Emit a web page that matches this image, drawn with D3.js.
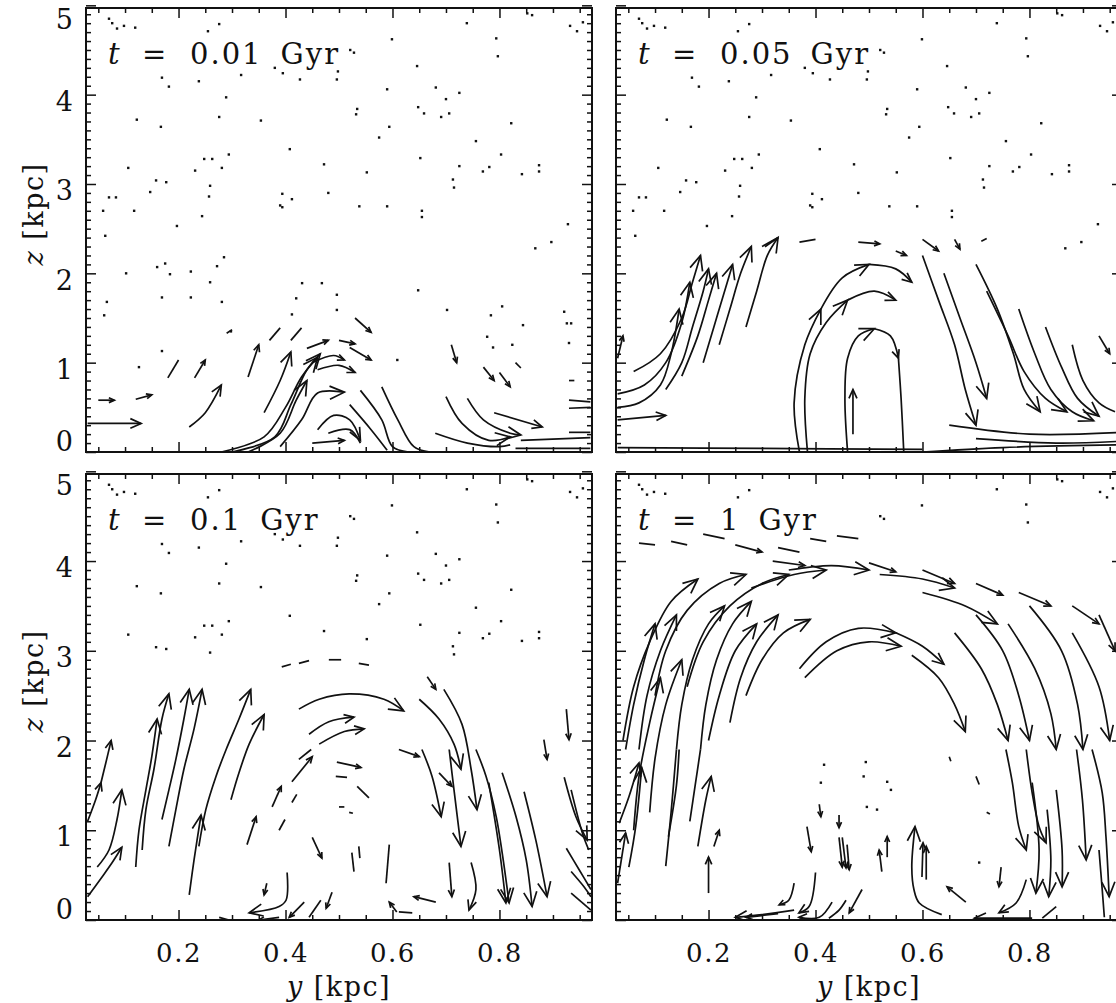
<!DOCTYPE html>
<html>
<head>
<meta charset="utf-8">
<script src="https://cdn.jsdelivr.net/npm/d3@7"></script>
<style>
  body { margin: 0; background: #fff; }
  text { font-family: "DejaVu Serif", serif; fill: #111; }
</style>
</head>
<body>
<svg id="chart" width="1116" height="1003"></svg>
<script>
// axis values
var yTicks = [0.2, 0.4, 0.6, 0.8];
var zTicks = [0, 1, 2, 3, 4, 5];
var times = ["0.01", "0.05", "0.1", "1"];
var yDomain = [0.027, 0.973];
var zDomain = [0, 4.97];

// tracer dots still at rest (same in early frames), [y, z] in kpc
var dotsEarly = [
  [0.07,4.85],[0.076,4.8],[0.085,4.74],[0.098,4.77],[0.119,4.75],[0.255,4.71],[0.276,4.79],
  [0.169,4.19],[0.182,4.09],[0.238,4.15],[0.317,4.22],[0.38,4.3],[0.395,4.24],[0.427,4.17],
  [0.289,3.97],[0.122,3.72],[0.167,3.64],[0.276,3.75],[0.354,3.71],[0.408,3.39],[0.248,3.28],
  [0.263,3.28],[0.294,3.33],[0.281,3.18],[0.231,3.15],[0.106,3.18],[0.158,3.04],[0.177,3.02],
  [0.147,2.91],[0.259,2.98],[0.257,2.86],[0.07,2.85],[0.083,2.85],[0.059,2.7],[0.117,2.7],
  [0.244,2.64],[0.394,2.89],[0.412,2.83],[0.39,2.76],[0.394,2.74],[0.197,2.53],[0.063,2.42],
  [0.521,4.5],[0.528,4.47],[0.599,4.62],[0.739,4.8],[0.794,4.63],[0.797,4.43],[0.852,4.91],
  [0.861,4.89],[0.932,4.77],[0.945,4.71],[0.956,4.81],[0.498,4.26],[0.496,4.17],[0.646,4.32],
  [0.59,4.06],[0.681,4.08],[0.7,3.95],[0.725,4.02],[0.648,3.86],[0.659,3.79],[0.691,3.75],
  [0.706,3.79],[0.534,3.84],[0.532,3.78],[0.594,3.64],[0.575,3.52],[0.822,3.68],[0.756,3.48],
  [0.803,3.33],[0.652,3.29],[0.472,3.22],[0.552,3.13],[0.725,3.2],[0.769,3.14],[0.781,3.19],
  [0.842,3.11],[0.874,3.21],[0.874,3.14],[0.713,3.05],[0.715,2.96],[0.48,2.9],[0.538,2.75],
  [0.59,2.75],[0.655,2.7],[0.655,2.63],[0.928,2.55],[0.897,2.35],[0.867,2.28]
];
var dotsLow1 = [
  [0.102,2.0],[0.16,2.07],[0.175,2.11],[0.184,1.99],[0.223,2.02],[0.259,1.9],[0.272,2.08],
  [0.285,2.18],[0.169,1.73],[0.223,1.73],[0.281,1.68],[0.42,1.72],[0.066,1.68],[0.061,1.53],
  [0.412,1.54],[0.126,0.95],[0.169,1.13],[0.298,1.35],[0.431,1.89],[0.468,1.89],[0.648,1.81],
  [0.496,1.76],[0.496,1.59],[0.702,1.59],[0.805,1.63],[0.784,1.53],[0.844,1.42],[0.921,1.57],
  [0.926,1.44],[0.934,1.44],[0.93,1.22],[0.609,1.03],[0.777,1.29],[0.788,1.17],[0.824,1.2]
];
var dotsLow4 = [
  [0.416,1.73],[0.494,1.76],[0.49,1.6],[0.534,1.54],[0.541,1.45],[0.496,1.26],[0.515,1.23],
  [0.706,0.64],[0.41,1.53]
];

// streamlines ending in an arrow head, [y, z] points in kpc
var arrows1 = [
  [[0.03,0.32],[0.13,0.32]],
  [[0.05,0.58],[0.08,0.58]],
  [[0.12,0.59],[0.15,0.64]],
  [[0.23,0.83],[0.25,1.03]],
  [[0.22,0.28],[0.25,0.44],[0.28,0.75]],
  [[0.33,0.84],[0.35,1.2]],
  [[0.36,0.44],[0.39,0.8],[0.41,1.12]],
  [[0.28,0],[0.36,0.17],[0.40,0.5],[0.43,0.84],[0.46,1.06]],
  [[0.30,0],[0.38,0.17],[0.41,0.53],[0.44,0.92],[0.465,1.1]],
  [[0.33,0],[0.39,0.21],[0.42,0.58],[0.44,0.8]],
  [[0.39,0.06],[0.43,0.36],[0.46,0.66],[0.51,0.67]],
  [[0.44,1.16],[0.48,1.25]],
  [[0.50,1.25],[0.53,1.21]],
  [[0.53,1.5],[0.56,1.34]],
  [[0.52,1.17],[0.56,1.03]],
  [[0.45,1.0],[0.49,1.08],[0.51,1.03]],
  [[0.46,0.92],[0.50,0.97],[0.53,0.89]],
  [[0.46,0.25],[0.49,0.41],[0.52,0.36],[0.54,0.13]],
  [[0.45,0.1],[0.51,0.13]],
  [[0.70,0.62],[0.73,0.32],[0.78,0.13],[0.82,0.17]],
  [[0.74,0.6],[0.77,0.36],[0.82,0.21],[0.84,0.19]],
  [[0.79,0.44],[0.88,0.28]],
  [[0.71,1.2],[0.72,1.0]],
  [[0.77,0.95],[0.79,0.8]],
  [[0.80,0.89],[0.82,0.73]]
];
var curves1 = [
  [[0.18,0.83],[0.20,1.03]],
  [[0.29,1.33],[0.30,1.37]],
  [[0.37,1.25],[0.39,1.39]],
  [[0.41,1.25],[0.43,1.39]],
  [[0.48,0.21],[0.52,0.25],[0.54,0.1]],
  [[0.54,0.69],[0.58,0.36],[0.60,0.06],[0.63,0]],
  [[0.52,0.53],[0.56,0.25],[0.59,0.02]],
  [[0.58,0.73],[0.61,0.36],[0.64,0.06],[0.67,0]],
  [[0.68,0.21],[0.74,0.1],[0.80,0.06],[0.82,0.08]],
  [[0.84,0.13],[0.97,0.16]],
  [[0.93,0.58],[0.97,0.56]],
  [[0.93,0.49],[0.97,0.5]],
  [[0.93,0.22],[0.97,0.22]],
  [[0.83,0.04],[0.97,0.04]],
  [[0.83,1.0],[0.84,0.94]],
  [[0.93,0.8],[0.94,0.8]]
];

var arrows2 = [
  [[0.03,0.36],[0.12,0.41]],
  [[0.03,0.5],[0.07,0.55],[0.11,0.75],[0.13,1.1],[0.145,1.6]],
  [[0.03,0.65],[0.08,0.75],[0.12,1.0],[0.15,1.45],[0.165,1.9]],
  [[0.06,0.9],[0.11,1.1],[0.15,1.5],[0.17,1.9],[0.185,2.2]],
  [[0.12,0.7],[0.15,1.0],[0.17,1.4],[0.19,1.8],[0.2,2.05]],
  [[0.15,0.85],[0.18,1.3],[0.2,1.7],[0.215,2.0]],
  [[0.19,1.0],[0.21,1.4],[0.23,1.8],[0.245,2.1]],
  [[0.22,1.2],[0.24,1.6],[0.26,2.0],[0.28,2.3]],
  [[0.27,1.4],[0.29,1.8],[0.31,2.2],[0.33,2.4]],
  [[0.03,1.05],[0.04,1.3]],
  [[0.37,0],[0.36,0.55],[0.38,1.2],[0.41,1.6]],
  [[0.41,1.6],[0.45,1.95],[0.5,2.1]],
  [[0.5,2.1],[0.55,2.05],[0.58,1.9]],
  [[0.385,0],[0.38,0.6],[0.39,1.1],[0.42,1.45],[0.46,1.7]],
  [[0.46,1.7],[0.51,1.8],[0.55,1.7]],
  [[0.46,0],[0.455,0.6],[0.46,1.05],[0.48,1.3],[0.51,1.38]],
  [[0.51,1.38],[0.54,1.3],[0.555,1.05]],
  [[0.47,0.2],[0.47,0.7]],
  [[0.48,2.35],[0.52,2.33]],
  [[0.55,2.25],[0.57,2.2]],
  [[0.6,2.38],[0.63,2.25]],
  [[0.66,2.38],[0.67,2.27]],
  [[0.6,2.2],[0.63,1.7],[0.66,1.2],[0.68,0.7],[0.70,0.3]],
  [[0.64,2.0],[0.67,1.5],[0.7,1.0],[0.72,0.6]],
  [[0.7,2.1],[0.74,1.6],[0.77,1.1],[0.79,0.7],[0.82,0.45]],
  [[0.72,1.8],[0.76,1.3],[0.79,0.9],[0.83,0.6],[0.87,0.45]],
  [[0.78,1.6],[0.81,1.1],[0.84,0.7],[0.88,0.45],[0.92,0.35]],
  [[0.83,1.4],[0.86,0.95],[0.89,0.6],[0.93,0.4]],
  [[0.93,1.3],[0.95,1.1]]
];
var curves2 = [
  [[0.6,0.0],[0.75,0.05],[0.97,0.08]],
  [[0.7,0.15],[0.85,0.1],[0.97,0.12]],
  [[0.65,0.3],[0.8,0.2],[0.97,0.22]],
  [[0.03,0.05],[0.3,0.04],[0.6,0.03]],
  [[0.555,1.05],[0.56,0.6],[0.565,0]],
  [[0.88,1.2],[0.9,0.8],[0.93,0.55],[0.96,0.45]],
  [[0.30,2.3],[0.33,2.4]],
  [[0.37,2.35],[0.40,2.38]],
  [[0.71,2.36],[0.72,2.39]]
];

var arrows3 = [
  [[0.03,1.1],[0.045,1.34],[0.055,1.53]],
  [[0.055,1.53],[0.064,1.75],[0.074,2.0]],
  [[0.03,0.26],[0.057,0.48],[0.076,0.64],[0.094,0.81]],
  [[0.048,0.59],[0.07,0.78],[0.085,1.12],[0.094,1.45]],
  [[0.12,0.59],[0.126,1.0],[0.139,1.45],[0.15,1.82],[0.16,2.24]],
  [[0.132,0.78],[0.139,1.23],[0.154,1.68],[0.169,2.24],[0.182,2.52]],
  [[0.169,1.12],[0.182,1.45],[0.195,1.79],[0.21,2.24],[0.22,2.57]],
  [[0.182,0.82],[0.195,1.23],[0.21,1.68],[0.229,2.13],[0.244,2.57]],
  [[0.22,0.28],[0.229,0.67],[0.242,1.17]],
  [[0.238,0.82],[0.251,1.23],[0.27,1.6],[0.289,1.9],[0.313,2.24],[0.335,2.57]],
  [[0.298,1.34],[0.313,1.64],[0.332,1.96],[0.36,2.29]],
  [[0.328,0.84],[0.345,1.15]],
  [[0.375,1.26],[0.392,1.49]],
  [[0.412,1.54],[0.45,1.82]],
  [[0.496,1.76],[0.541,1.7]],
  [[0.45,0.92],[0.468,0.69]],
  [[0.403,0.53],[0.401,0.22],[0.388,0.15],[0.332,0.08]],
  [[0.365,0.41],[0.36,0.28]],
  [[0.435,0.2],[0.407,0.03]],
  [[0.487,0.31],[0.476,0.13]],
  [[0.388,0.03],[0.35,0.0]],
  [[0.608,0.09],[0.594,0.2]],
  [[0.612,1.9],[0.65,1.82]],
  [[0.655,1.9],[0.674,1.6],[0.691,1.15]],
  [[0.687,1.64],[0.711,1.49]],
  [[0.706,1.9],[0.715,1.45],[0.728,0.82]],
  [[0.756,1.9],[0.775,1.6],[0.794,1.15],[0.805,0.75],[0.818,0.19]],
  [[0.78,1.53],[0.80,0.78],[0.812,0.19]],
  [[0.805,1.64],[0.831,1.15],[0.85,0.67],[0.861,0.15]],
  [[0.846,1.43],[0.868,0.89],[0.889,0.26]],
  [[0.706,0.64],[0.711,0.26]],
  [[0.747,0.64],[0.756,0.34],[0.743,0.11]],
  [[0.681,0.2],[0.64,0.26]],
  [[0.921,1.59],[0.943,1.15],[0.964,0.89]],
  [[0.665,2.71],[0.681,2.57]],
  [[0.425,2.35],[0.463,2.46],[0.519,2.52],[0.584,2.46],[0.621,2.33]],
  [[0.65,2.46],[0.687,2.24],[0.715,1.96],[0.728,1.68]],
  [[0.444,2.07],[0.481,2.21],[0.528,2.26]],
  [[0.463,1.96],[0.51,2.1],[0.547,2.13]],
  [[0.696,2.57],[0.73,2.18],[0.747,1.68],[0.758,1.23]],
  [[0.883,2.01],[0.889,1.79]],
  [[0.925,2.35],[0.93,2.01]]
];
var curves3 = [
  [[0.388,1.0],[0.399,1.12]],
  [[0.412,1.31],[0.421,1.4]],
  [[0.494,1.6],[0.515,1.59]],
  [[0.534,1.49],[0.556,1.36]],
  [[0.50,1.26],[0.51,1.26]],
  [[0.519,1.2],[0.526,1.19]],
  [[0.524,0.75],[0.528,0.54]],
  [[0.537,0.82],[0.539,0.69]],
  [[0.466,0.22],[0.444,0.03]],
  [[0.276,0.03],[0.294,0.0]],
  [[0.594,0.84],[0.588,0.41]],
  [[0.637,0.08],[0.612,0.09]],
  [[0.934,1.45],[0.955,0.97],[0.967,0.78]],
  [[0.925,0.8],[0.949,0.56],[0.971,0.34]],
  [[0.934,0.54],[0.958,0.37],[0.971,0.26]],
  [[0.934,0.3],[0.971,0.11]],
  [[0.393,2.82],[0.41,2.85]],
  [[0.425,2.86],[0.444,2.89]],
  [[0.481,2.9],[0.504,2.9]],
  [[0.537,2.86],[0.556,2.84]],
  [[0.425,1.79],[0.448,1.9]]
];

var arrows4 = [
  [[0.03,0.41],[0.045,0.97]],
  [[0.033,1.08],[0.051,1.37],[0.07,1.75]],
  [[0.051,0.59],[0.064,1.05],[0.075,1.7]],
  [[0.18,0.82],[0.195,1.34],[0.205,1.6]],
  [[0.21,0.82],[0.22,1.0]],
  [[0.2,0.3],[0.2,0.7]],
  [[0.045,1.9],[0.06,2.4],[0.08,2.9],[0.10,3.3]],
  [[0.07,1.9],[0.085,2.5],[0.11,3.0],[0.14,3.4]],
  [[0.06,1.0],[0.07,1.6],[0.09,2.2],[0.11,2.7]],
  [[0.09,1.2],[0.1,1.8],[0.12,2.4],[0.15,2.9]],
  [[0.14,1.9],[0.15,2.4],[0.17,2.9],[0.2,3.3],[0.23,3.5]],
  [[0.185,1.9],[0.195,2.4],[0.215,2.9],[0.245,3.3],[0.28,3.55]],
  [[0.2,2.0],[0.22,2.5],[0.25,3.0],[0.29,3.3]],
  [[0.24,2.2],[0.26,2.7],[0.29,3.1],[0.33,3.4]],
  [[0.27,2.5],[0.3,2.9],[0.34,3.2],[0.39,3.35]],
  [[0.04,2.0],[0.06,2.6],[0.09,3.1],[0.13,3.55],[0.18,3.8]],
  [[0.10,2.5],[0.12,3.0],[0.16,3.45],[0.22,3.75],[0.27,3.85]],
  [[0.16,2.6],[0.19,3.1],[0.24,3.5],[0.3,3.75],[0.35,3.85]],
  [[0.35,3.9],[0.43,3.95],[0.5,3.9]],
  [[0.28,3.7],[0.36,3.85],[0.42,3.9]],
  [[0.52,3.85],[0.6,3.8],[0.66,3.7]],
  [[0.6,3.65],[0.68,3.5],[0.74,3.3]],
  [[0.37,2.8],[0.42,3.1],[0.48,3.25],[0.55,3.2]],
  [[0.38,2.7],[0.44,3.0],[0.5,3.1],[0.56,3.05]],
  [[0.55,3.2],[0.6,3.05],[0.64,2.85]],
  [[0.58,2.95],[0.63,2.7],[0.66,2.4],[0.68,2.1]],
  [[0.7,3.4],[0.75,3.0],[0.78,2.5],[0.8,2.0]],
  [[0.66,3.2],[0.71,2.8],[0.74,2.4],[0.76,2.0]],
  [[0.76,3.3],[0.81,2.8],[0.84,2.3],[0.85,1.9]],
  [[0.8,3.5],[0.86,3.0],[0.89,2.4],[0.9,1.9]],
  [[0.88,3.2],[0.93,2.6],[0.95,2.0]],
  [[0.93,3.4],[0.96,3.0]],
  [[0.756,1.9],[0.768,1.53],[0.78,1.04],[0.794,0.78]],
  [[0.794,1.9],[0.805,1.42],[0.818,1.04],[0.831,0.86]],
  [[0.805,1.53],[0.818,0.78],[0.812,0.3]],
  [[0.833,1.23],[0.84,0.67],[0.836,0.26]],
  [[0.85,1.45],[0.861,0.78],[0.861,0.37]],
  [[0.888,1.9],[0.899,1.34],[0.906,0.67]],
  [[0.917,1.9],[0.936,1.42],[0.943,0.93],[0.949,0.26]],
  [[0.384,1.04],[0.392,0.76]],
  [[0.407,1.29],[0.41,1.15]],
  [[0.444,1.17],[0.444,1.03]],
  [[0.444,0.92],[0.45,0.59]],
  [[0.45,0.92],[0.457,0.58]],
  [[0.459,0.84],[0.463,0.56]],
  [[0.524,0.54],[0.519,0.78]],
  [[0.534,0.7],[0.534,0.93]],
  [[0.636,0.06],[0.594,0.19],[0.584,0.34],[0.58,0.59],[0.586,1.04]],
  [[0.599,0.48],[0.601,0.86]],
  [[0.607,0.45],[0.607,0.82]],
  [[0.681,0.2],[0.646,0.37]],
  [[0.747,0.59],[0.743,0.37]],
  [[0.794,0.45],[0.775,0.19],[0.743,0.08]],
  [[0.805,0.02],[0.697,0.02]],
  [[0.40,0.53],[0.388,0.15],[0.369,0.08]],
  [[0.431,0.2],[0.407,0.03],[0.369,0.03]],
  [[0.487,0.34],[0.463,0.08]],
  [[0.36,0.41],[0.35,0.22],[0.332,0.17]],
  [[0.36,0.11],[0.30,0.06],[0.25,0.03]],
  [[0.33,0.07],[0.27,0.03]],
  [[0.25,4.18],[0.3,4.1]],
  [[0.32,4.0],[0.38,3.95]],
  [[0.5,3.98],[0.55,3.88]],
  [[0.6,3.9],[0.66,3.75]],
  [[0.7,3.75],[0.75,3.62]],
  [[0.78,3.65],[0.84,3.5]],
  [[0.88,3.5],[0.93,3.3]]
];
var curves4 = [
  [[0.12,0.6],[0.13,1.2],[0.14,1.9]],
  [[0.125,0.93],[0.14,1.5],[0.145,1.9]],
  [[0.165,1.1],[0.175,1.5],[0.185,1.9]],
  [[0.93,0.78],[0.936,0.34],[0.94,0.03]],
  [[0.65,1.82],[0.653,1.77]],
  [[0.7,1.6],[0.706,1.51]],
  [[0.72,1.2],[0.726,1.18]],
  [[0.457,0.22],[0.444,0.11],[0.425,0.02]],
  [[0.85,0.15],[0.824,0.02]],
  [[0.07,4.2],[0.1,4.18]],
  [[0.13,4.22],[0.16,4.18]],
  [[0.19,4.3],[0.23,4.25]],
  [[0.33,4.15],[0.37,4.1]],
  [[0.39,4.25],[0.42,4.22]],
  [[0.44,4.28],[0.48,4.25]]
];

var svg = d3.select("#chart");
var W = 506;
var panels = [
  {x0: 86,  y0: 8,   h: 444, t: times[0], arrows: arrows1, curves: curves1, dots: dotsEarly.concat(dotsLow1), left: true,  bottom: false},
  {x0: 616, y0: 8,   h: 444, t: times[1], arrows: arrows2, curves: curves2, dots: dotsEarly, left: false, bottom: false},
  {x0: 86,  y0: 474, h: 446, t: times[2], arrows: arrows3, curves: curves3, dots: dotsEarly.filter(d => d[1] > 2.95), left: true,  bottom: true},
  {x0: 616, y0: 474, h: 446, t: times[3], arrows: arrows4, curves: curves4, dots: dotsEarly.filter(d => d[1] > 4.4).concat(dotsLow4), left: false, bottom: true}
];

var minorX = d3.range(1, 20).map(k => +(k * 0.05).toFixed(2)).filter(v => yTicks.indexOf(v) < 0);
var minorZ = d3.range(1, 50).map(k => +(k * 0.1).toFixed(1)).filter(v => v % 1 !== 0);

panels.forEach(function (p, i) {
  var x = d3.scaleLinear().domain(yDomain).range([p.x0, p.x0 + W]);
  var z = d3.scaleLinear().domain(zDomain).range([p.y0 + p.h, p.y0]);

  svg.append("clipPath").attr("id", "clip" + i)
    .append("rect").attr("x", p.x0).attr("y", p.y0).attr("width", W).attr("height", p.h);

  var plot = svg.append("g").attr("clip-path", "url(#clip" + i + ")");

  var line = d3.line()
    .x(d => x(d[0]))
    .y(d => z(d[1]))
    .curve(d3.curveCatmullRom.alpha(0.5));

  // arrow head, open V at the end of a streamline
  function head(pts) {
    var P = pts.map(q => [x(q[0]), z(q[1])]);
    var L = 0;
    for (var k = 1; k < P.length; k++) L += Math.hypot(P[k][0] - P[k-1][0], P[k][1] - P[k-1][1]);
    var a = P[P.length - 2], b = P[P.length - 1];
    var ang = Math.atan2(b[1] - a[1], b[0] - a[0]);
    var hl = Math.max(6, Math.min(16, L * 0.22));
    var s = 0.42;
    return "M" + (b[0] - hl * Math.cos(ang - s)) + "," + (b[1] - hl * Math.sin(ang - s)) +
           "L" + b[0] + "," + b[1] +
           "L" + (b[0] - hl * Math.cos(ang + s)) + "," + (b[1] - hl * Math.sin(ang + s));
  }

  plot.selectAll("rect.dot").data(p.dots).join("rect")
    .attr("class", "dot")
    .attr("x", d => x(d[0]) - 1.2).attr("y", d => z(d[1]) - 1.2)
    .attr("width", 2.4).attr("height", 2.4).attr("fill", "#111");

  plot.selectAll("path.curve").data(p.curves).join("path")
    .attr("class", "curve")
    .attr("d", line).attr("fill", "none").attr("stroke", "#111").attr("stroke-width", 1.7);

  plot.selectAll("path.arrow").data(p.arrows).join("path")
    .attr("class", "arrow")
    .attr("d", line).attr("fill", "none").attr("stroke", "#111").attr("stroke-width", 1.7);

  plot.selectAll("path.head").data(p.arrows).join("path")
    .attr("class", "head")
    .attr("d", head).attr("fill", "none").attr("stroke", "#111").attr("stroke-width", 1.7)
    .attr("stroke-linejoin", "miter");

  // ticks on all four sides, pointing inward
  var bottomAxis = d3.axisBottom(x).tickValues(yTicks).tickSize(-10).tickPadding(0)
    .tickFormat(p.bottom ? d3.format(".1f") : "");
  var gb = svg.append("g").attr("transform", "translate(0," + (p.y0 + p.h) + ")").call(bottomAxis);
  gb.selectAll("text").attr("dy", null).attr("y", 42)
    .style("font-size", "26px").style("letter-spacing", "1.5px");
  svg.append("g").attr("transform", "translate(0," + (p.y0 + p.h) + ")")
    .call(d3.axisBottom(x).tickValues(minorX).tickSize(-5).tickFormat(""));
  svg.append("g").attr("transform", "translate(0," + p.y0 + ")")
    .call(d3.axisTop(x).tickValues(yTicks).tickSize(-10).tickFormat(""));
  svg.append("g").attr("transform", "translate(0," + p.y0 + ")")
    .call(d3.axisTop(x).tickValues(minorX).tickSize(-5).tickFormat(""));

  var leftAxis = d3.axisLeft(z).tickValues(zTicks).tickSize(-10).tickPadding(13)
    .tickFormat(p.left ? d3.format("d") : "");
  var gl = svg.append("g").attr("transform", "translate(" + p.x0 + ",0)").call(leftAxis);
  gl.selectAll("text")
    .attr("dy", "0.36em")
    .attr("y", d => d === 0 ? -11 : (d === 5 ? 13 : 6))
    .style("font-size", "27px");
  svg.append("g").attr("transform", "translate(" + p.x0 + ",0)")
    .call(d3.axisLeft(z).tickValues(minorZ).tickSize(-5).tickFormat(""));
  svg.append("g").attr("transform", "translate(" + (p.x0 + W) + ",0)")
    .call(d3.axisRight(z).tickValues(zTicks).tickSize(-10).tickFormat(""));
  svg.append("g").attr("transform", "translate(" + (p.x0 + W) + ",0)")
    .call(d3.axisRight(z).tickValues(minorZ).tickSize(-5).tickFormat(""));

  svg.selectAll(".domain").remove();
  svg.selectAll(".tick line").attr("stroke", "#111").attr("stroke-width", 1.5);

  svg.append("rect")
    .attr("x", p.x0).attr("y", p.y0).attr("width", W).attr("height", p.h)
    .attr("fill", "none").attr("stroke", "#111").attr("stroke-width", 2);

  // time label
  var tl = svg.append("text").attr("y", p.y0 + 56).style("font-size", "29px");
  tl.append("tspan").attr("x", p.x0 + 22).style("font-style", "italic").text("t");
  tl.append("tspan").attr("x", p.x0 + 56).text("=");
  var num = tl.append("tspan").attr("x", p.x0 + 104).style("letter-spacing", "2px").text(p.t);
  var nw = num.node().getComputedTextLength();
  tl.append("tspan").attr("x", p.x0 + 104 + nw + 18).style("letter-spacing", "2px").text("Gyr");

  if (p.bottom) {
    var xl = svg.append("text")
      .attr("x", p.x0 + W / 2).attr("y", 996)
      .attr("text-anchor", "middle").style("font-size", "27px").style("letter-spacing", "1.5px");
    xl.append("tspan").style("font-style", "italic").text("y");
    xl.append("tspan").text(" [kpc]");
  }
  if (p.left) {
    var cy = p.y0 + p.h / 2 - 16;
    var zl = svg.append("text")
      .attr("transform", "translate(43," + cy + ") rotate(-90)")
      .attr("text-anchor", "middle").style("font-size", "27px").style("letter-spacing", "1.5px");
    zl.append("tspan").style("font-style", "italic").text("z");
    zl.append("tspan").text(" [kpc]");
  }
});
</script>
</body>
</html>
